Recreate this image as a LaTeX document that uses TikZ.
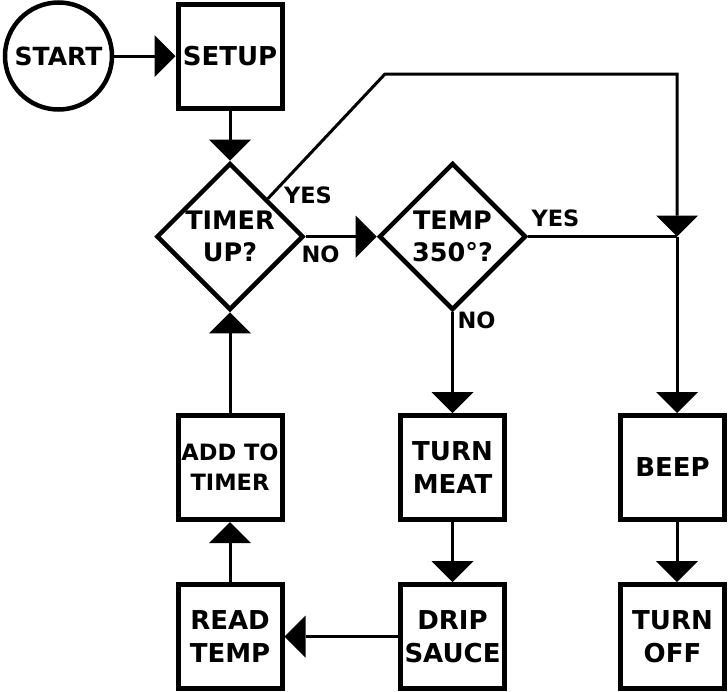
\documentclass[tikz,border=0pt]{standalone}
\usepackage{fontspec}
\setmainfont{DejaVu Sans}
\usetikzlibrary{shapes.geometric,arrows.meta}
\begin{document}
\begin{tikzpicture}[x=1pt,y=-1pt,
  box/.style={draw, line width=5pt, fill=white, minimum width=104pt, minimum height=104pt,
    inner sep=0pt, align=center, font=\fontsize{26}{33}\selectfont\bfseries},
  dia/.style={draw, diamond, line width=4.5pt, fill=white, minimum width=147pt, minimum height=147pt,
    inner sep=0pt, align=center, font=\fontsize{25.5}{32}\selectfont\bfseries},
  lbl/.style={font=\fontsize{22.5}{24}\selectfont\bfseries, inner sep=0pt},
  conn/.style={line width=3pt},
  tip/.style={-{Triangle[length=21pt,width=42pt,line width=0pt]}},
  arr/.style={conn, tip},
]
\useasboundingbox (0,0) rectangle (728,691);

% nodes
\node[circle, draw, line width=4.5pt, fill=white, minimum size=107pt, inner sep=0pt,
  font=\fontsize{25}{30}\selectfont\bfseries] (start) at (58.5,56) {START};
\node[box] (setup) at (230,56) {SETUP};
\node[dia] (timer) at (230,236.5) {TIMER\\UP?};
\node[dia] (temp) at (452.5,236.5) {TEMP\\350°?};
\node[box, font=\fontsize{22.5}{30}\selectfont\bfseries] (add) at (230,467.5) {ADD TO\\TIMER};
\node[box] (meat) at (452.5,467.5) {TURN\\MEAT};
\node[box] (beep) at (672.5,467.5) {BEEP};
\node[box] (read) at (230,636.5) {READ\\TEMP};
\node[box] (drip) at (452.5,636.5) {DRIP\\SAUCE};
\node[box] (off) at (672.5,636.5) {TURN\\OFF};

% labels
\node[lbl] (y1) at (308,195) {YES};
\node[lbl] (n1) at (320.5,254) {NO};
\node[lbl] (y2) at (555.5,218) {YES};
\node[lbl] (n2) at (476.5,320) {NO};

% junction coordinates
\coordinate (bend) at (385,74);
\coordinate (cn) at (677,74);
\coordinate (jn) at (677,236.5);

% connectors
\draw[arr] (start) -- (setup);
\draw[arr] (setup) -- (timer);
\draw[arr] (timer) -- (temp);
\draw[arr] (temp) -- (meat);
\draw[arr] (add) -- (timer);
\draw[arr] (read) -- (add);
\draw[arr] (meat) -- (drip);
\draw[arr] (drip) -- (read);
\draw[conn, tip] (timer.north east) -- (bend) -- (cn) -- (jn);
\draw[conn] (temp.east) -- (jn);
\draw[arr] (jn) -- (jn |- beep.north);
\draw[arr] (beep.south -| jn) -- (off.north -| jn);
\end{tikzpicture}
\end{document}
